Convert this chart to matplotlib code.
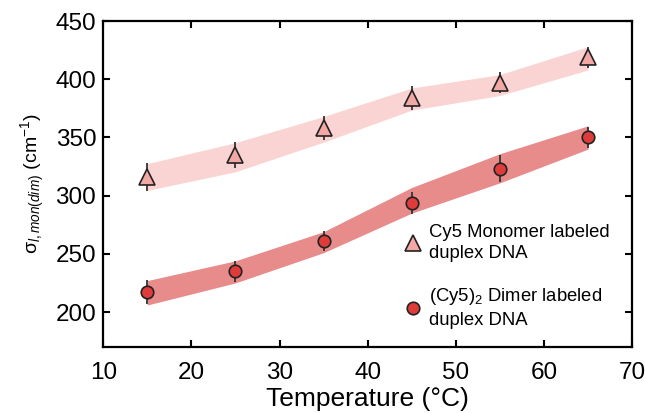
import matplotlib
matplotlib.use("Agg")
import matplotlib.pyplot as plt
import numpy as np

plt.rcParams['font.family'] = ['Liberation Sans', 'DejaVu Sans']
plt.rcParams['mathtext.fontset'] = 'custom'
plt.rcParams['mathtext.rm'] = 'Liberation Sans'
plt.rcParams['mathtext.it'] = 'Liberation Sans:italic'

temp = [15, 25, 35, 45, 55, 65]

# Cy5 monomer
mono = [316, 335, 358, 384, 397, 419]
mono_err = [12, 11, 10, 10, 9, 9]
mono_band = [316, 333, 357, 383, 395, 418]
mono_half = [11.5, 12.5, 11, 9.5, 9, 10]

# (Cy5)2 dimer
dim = [217, 235, 261, 294, 323, 350]
dim_err = [10.5, 9, 8.5, 9.5, 11.5, 9]
dim_band = [216.5, 234.5, 260, 296, 323.5, 350]
dim_half = [10.5, 9.5, 9, 11, 12.5, 10]

fig = plt.figure(figsize=(6.45, 4.13), dpi=100)
ax = fig.add_axes([0.160, 0.160, 0.820, 0.789])

mb = np.array(mono_band); mh = np.array(mono_half)
db = np.array(dim_band); dh = np.array(dim_half)
ax.fill_between(temp, mb - mh, mb + mh, color='#f9d4d2', lw=0, zorder=1)
ax.fill_between(temp, db - dh, db + dh, color='#e78b8b', lw=0, zorder=1)

ax.errorbar(temp, mono, yerr=mono_err, fmt='none', ecolor='#333333', elinewidth=1.3, zorder=2)
ax.errorbar(temp, dim, yerr=dim_err, fmt='none', ecolor='#333333', elinewidth=1.3, zorder=2)
h1, = ax.plot(temp, mono, ls='none', marker='^', ms=11, mfc='#f2a9a5', mec='#222222', mew=1.2, zorder=3)
h2, = ax.plot(temp, dim, ls='none', marker='o', ms=9, mfc='#de3b3b', mec='#222222', mew=1.2, zorder=3)

ax.set_xlim(10, 70)
ax.set_ylim(170, 450)
ax.set_xticks(range(10, 71, 10))
ax.set_yticks(range(200, 451, 50))
ax.tick_params(direction='in', length=5, width=1.5, labelsize=17.5, top=True, right=True, pad=5)
ax.tick_params(axis='x', pad=11)
for s in ax.spines.values():
    s.set_linewidth(1.6)

ax.set_xlabel('Temperature (°C)', fontsize=19, labelpad=2)
ax.set_ylabel(r'σ$_{\mathit{l,mon(dim)}}$ (cm$^{-1}$)', fontsize=14, labelpad=6)

leg = ax.legend([h1, h2], ['Cy5 Monomer labeled\nduplex DNA', '(Cy5)$_2$ Dimer labeled\nduplex DNA'],
                loc='lower left', bbox_to_anchor=(0.54, 0.016), frameon=False, fontsize=13.3,
                labelspacing=1.3, handletextpad=0.3, borderpad=0.2, handlelength=1.2)
for t in leg.get_texts():
    t.set_linespacing(1.35)

fig.savefig('out.png', dpi=100)
